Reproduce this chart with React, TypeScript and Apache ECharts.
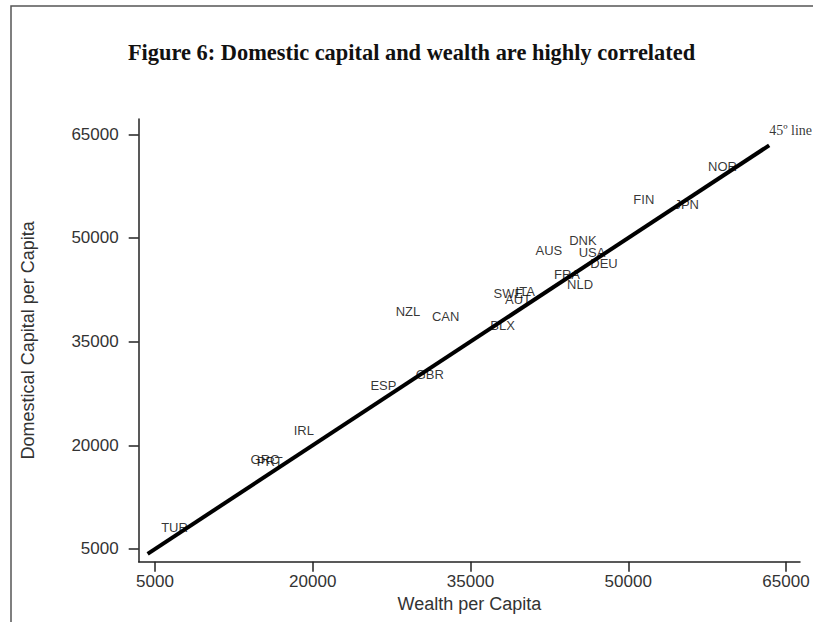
import React, { useEffect, useRef } from "react";
import * as echarts from "echarts";

const countries = ["TUR", "GRC", "PRT", "IRL", "ESP", "GBR", "NZL", "CAN", "BLX", "SWE", "ITA", "AUT", "AUS", "FRA", "NLD", "DNK", "USA", "DEU", "FIN", "JPN", "NOR"];
const wealth = [5300, 13800, 14400, 17900, 25200, 29500, 27600, 31050, 36600, 36900, 39000, 38000, 40900, 42650, 43900, 44100, 45000, 46100, 50200, 54100, 57300];
const capital = [8100, 18000, 17700, 22100, 28600, 30200, 39400, 38600, 37400, 42000, 42200, 41100, 48200, 44700, 43300, 49600, 47900, 46300, 55600, 54900, 60400];
const lineEnds = [4300, 63400];
const tickValues = [5000, 20000, 35000, 50000, 65000];

const titleText = "Figure 6: Domestic capital and wealth are highly correlated";
const lineLabel = "45º line";

export default function App() {
  const ref = useRef<HTMLDivElement>(null);
  useEffect(() => {
    if (!ref.current) return;
    const chart = echarts.init(ref.current, null, { renderer: "svg" });
    const sans = "'Liberation Sans', Arial, sans-serif";
    const serif = "'Liberation Serif', 'Times New Roman', serif";
    const labelCommon = { customValues: tickValues, formatter: (v: number) => String(v), fontFamily: sans, fontSize: 17, color: "#333" };
    const axisCommon = (name: string) => ({
      type: "value",
      name,
      nameLocation: "middle",
      nameTextStyle: { fontFamily: sans, fontSize: 18, color: "#333" },
      axisLine: { show: true, onZero: false, lineStyle: { color: "#222", width: 1.5 } },
      axisTick: { show: true, inside: false, length: 10, customValues: tickValues, lineStyle: { color: "#222", width: 1.5 } },
      splitLine: { show: false },
    });
    const textLabel = (font: string, size: number, extra: any) => ({
      show: true,
      formatter: (p: any) => p.value[2],
      position: "right",
      fontFamily: font,
      fontSize: size,
      color: "#000",
      textBorderWidth: 0,
      ...extra,
    });
    chart.setOption({
      animation: false,
      backgroundColor: "#fff",
      grid: { left: 138.7, right: 13, top: 119, bottom: 60.3, containLabel: false },
      xAxis: { ...axisCommon("Wealth per Capita"), min: 3450, max: 66330, nameGap: 28, axisLabel: { ...labelCommon, margin: 11 } },
      yAxis: { ...axisCommon("Domestical Capital per Capita"), min: 3160, max: 67210, nameGap: 102, nameRotate: 90, axisLabel: { ...labelCommon, margin: 20 } },
      graphic: [
        { type: "rect", shape: { x: 11, y: 6, width: 900, height: 800 }, style: { fill: "none", stroke: "#555", lineWidth: 1.5 }, silent: true },
        { type: "text", x: 411.5, y: 52, style: { text: titleText, font: `bold 22.4px ${serif}`, fill: "#111", textAlign: "center", textVerticalAlign: "middle" } },
      ],
      series: [
        {
          type: "line",
          data: lineEnds.map((v) => [v, v]),
          symbol: "none",
          lineStyle: { color: "#000", width: 4 },
          z: 2,
        },
        {
          type: "scatter",
          data: [[lineEnds[1], lineEnds[1], lineLabel]],
          symbolSize: 0,
          itemStyle: { color: "#000" },
          label: textLabel(serif, 14, { distance: 0, offset: [0, -15] }),
          emphasis: { disabled: true },
          z: 3,
        },
        {
          type: "scatter",
          data: countries.map((c, i) => [wealth[i], capital[i], c]),
          symbolSize: 0,
          itemStyle: { color: "#000" },
          label: textLabel(sans, 13, { distance: 3 }),
          emphasis: { disabled: true },
          z: 3,
        },
      ],
    });
    return () => chart.dispose();
  }, []);
  return <div ref={ref} style={{ position: "absolute", left: 0, top: 0, width: 813, height: 622 }} />;
}
